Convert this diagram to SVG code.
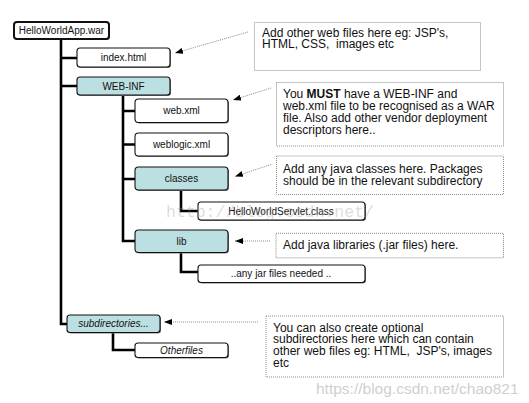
<svg xmlns="http://www.w3.org/2000/svg" width="529" height="403" viewBox="0 0 529 403">
<defs>
<style>
.node rect.b{stroke:#111;stroke-width:1.1}
.node rect.s{fill:#7a7a7a}
.f{fill:#fff}
.d{fill:#bcdfe2}
.nt{font-family:"Liberation Sans",Arial,sans-serif;font-size:10px;fill:#111;text-anchor:middle}
.it{font-style:italic}
.tree{fill:none;stroke:#000;stroke-width:2.6;stroke-linejoin:miter}
.ann rect{fill:#fff;stroke:#8a8a8a;stroke-width:1;stroke-dasharray:1 1}
.at{font-family:"Liberation Sans",Arial,sans-serif;font-size:12px;fill:#111}
.dot{fill:none;stroke:#8a8a8a;stroke-width:1;stroke-dasharray:1 1}
</style>
<marker id="ah" viewBox="0 0 8 6" refX="8" refY="3" markerWidth="8" markerHeight="6" markerUnits="userSpaceOnUse" orient="auto">
<path d="M0,0 L8,3 L0,6 Z" fill="#000"/>
</marker>
</defs>
<rect width="529" height="403" fill="#fff"/>

<g id="connectors">
<path class="tree" d="M61,39 V324 H67 M61,58 H77 M61,86 H77"/>
<path class="tree" d="M123,95 V241 H135 M123,111 H135 M123,144.5 H135 M123,179 H135"/>
<path class="tree" d="M181,190 V211 H198 M181,253 V272 H198"/>
<path class="tree" d="M113,333 V350 H135"/>
<path class="dot" d="M248,32 L175,53" marker-end="url(#ah)"/>
<path class="dot" d="M271,88 L233,100" marker-end="url(#ah)"/>
<path class="dot" d="M271,164.5 L235,176.5" marker-end="url(#ah)"/>
<path class="dot" d="M270,241 L235,241" marker-end="url(#ah)"/>
<path class="dot" d="M258,322 L164,322" marker-end="url(#ah)"/>
</g>

<g id="n-war" class="node">
<rect class="s" x="15" y="23" width="95" height="17" rx="3"/>
<rect class="b f" x="14" y="22" width="95" height="17" rx="3" style="stroke-width:2"/>
<text class="nt" x="61.5" y="34.3">HelloWorldApp.war</text>
</g>
<g id="n-index" class="node">
<rect class="s" x="78" y="49" width="93" height="19" rx="3"/>
<rect class="b f" x="77" y="48" width="93" height="19" rx="3"/>
<text class="nt" x="123.5" y="61">index.html</text>
</g>
<g id="n-webinf" class="node">
<rect class="s" x="78" y="78" width="93" height="18" rx="3"/>
<rect class="b d" x="77" y="77" width="93" height="18" rx="3"/>
<text class="nt" x="123.5" y="89.5">WEB-INF</text>
</g>
<g id="n-webxml" class="node">
<rect class="s" x="136" y="100" width="93" height="23.5" rx="3.5"/>
<rect class="b f" x="135" y="99" width="93" height="23.5" rx="3.5"/>
<text class="nt" x="181.5" y="114.3">web.xml</text>
</g>
<g id="n-weblogic" class="node">
<rect class="s" x="136" y="134" width="93" height="23" rx="3.5"/>
<rect class="b f" x="135" y="133" width="93" height="23" rx="3.5"/>
<text class="nt" x="181.5" y="148">weblogic.xml</text>
</g>
<g id="n-classes" class="node">
<rect class="s" x="136" y="168" width="93" height="23" rx="3.5"/>
<rect class="b d" x="135" y="167" width="93" height="23" rx="3.5"/>
<text class="nt" x="181.5" y="182">classes</text>
</g>
<g id="n-servlet" class="node">
<rect class="s" x="199" y="203" width="167" height="18" rx="3"/>
<rect class="b f" x="198" y="202" width="167" height="18" rx="3"/>
<text class="nt" x="281" y="214.5">HelloWorldServlet.class</text>
</g>
<g id="n-lib" class="node">
<rect class="s" x="136" y="231" width="93" height="22.5" rx="3.5"/>
<rect class="b d" x="135" y="230" width="93" height="22.5" rx="3.5"/>
<text class="nt" x="181.5" y="244.5">lib</text>
</g>
<g id="n-jars" class="node">
<rect class="s" x="199" y="266" width="167" height="17.5" rx="3"/>
<rect class="b f" x="198" y="265" width="167" height="17.5" rx="3"/>
<text class="nt" x="281" y="277.3">..any jar files needed ..</text>
</g>
<g id="n-subdirs" class="node">
<rect class="s" x="68" y="316" width="93" height="17.5" rx="3"/>
<rect class="b d" x="67" y="315" width="93" height="17.5" rx="3"/>
<text class="nt it" x="113.5" y="327.3">subdirectories...</text>
</g>
<g id="n-other" class="node">
<rect class="s" x="136" y="344" width="93" height="14.5" rx="3"/>
<rect class="b f" x="135" y="343" width="93" height="14.5" rx="3"/>
<text class="nt it" x="181.5" y="353.8">Otherfiles</text>
</g>

<g id="a-web" class="ann">
<rect x="254.5" y="22.5" width="226" height="48"/>
<text class="at" x="262" y="36.5">Add other web files here eg: JSP's,</text>
<text class="at" x="262" y="48" xml:space="preserve">HTML, CSS,  images etc</text>
</g>
<g id="a-webinf" class="ann">
<rect x="276.5" y="82.5" width="227" height="63.5"/>
<text class="at" x="283" y="97.5">You <tspan font-weight="bold">MUST</tspan> have a WEB-INF and</text>
<text class="at" x="283" y="109.8">web.xml file to be recognised as a WAR</text>
<text class="at" x="283" y="122">file. Also add other vendor deployment</text>
<text class="at" x="283" y="134.2">descriptors here..</text>
</g>
<g id="a-classes" class="ann">
<rect x="276.5" y="156" width="227" height="38.5"/>
<text class="at" x="283" y="172.5">Add any java classes here. Packages</text>
<text class="at" x="283" y="184.5">should be in the relevant subdirectory</text>
</g>
<g id="a-lib" class="ann">
<rect x="276" y="233.3" width="227.5" height="24.5"/>
<text class="at" x="283" y="249.2">Add java libraries (.jar files) here.</text>
</g>
<g id="a-subdirs" class="ann">
<rect x="266" y="316" width="237.5" height="61"/>
<text class="at" x="273" y="331.5">You can also create optional</text>
<text class="at" x="273" y="343.2">subdirectories here which can contain</text>
<text class="at" x="273" y="355" xml:space="preserve">other web files eg: HTML,  JSP's, images</text>
<text class="at" x="273" y="366.8">etc</text>
</g>

<text x="166" y="217" font-family="'Liberation Mono','Courier New',monospace" font-size="16.5" fill="#9a9a9a" fill-opacity="0.35">http://blog.csdn.net/</text>
<text x="316" y="394" font-family="'Liberation Sans',Arial,sans-serif" font-size="15.5" fill="#cfcfcf">https://blog.csdn.net/chao821</text>
</svg>
